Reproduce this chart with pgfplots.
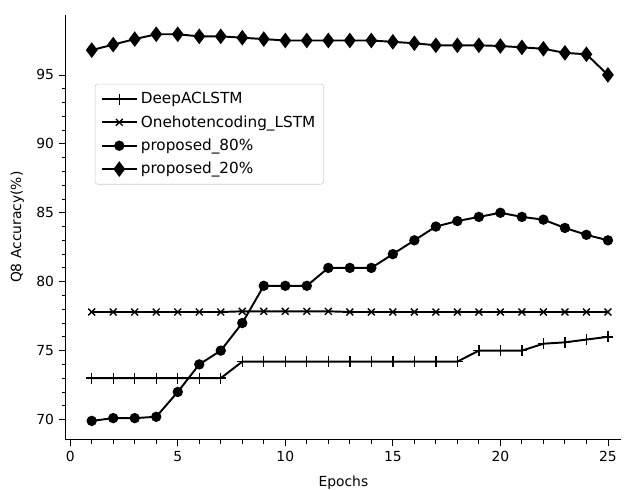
\documentclass[border=0pt]{standalone}
\usepackage{pgfplots}
\pgfplotsset{compat=1.18}
\usepackage{fontspec}
\setmainfont{DejaVu Sans}

\begin{document}
\begin{tikzpicture}
\begin{axis}[
    name=main,
    scale only axis,
    width=400pt, height=306pt,
    xmin=-0.2, xmax=25.6, ymin=68.55, ymax=99.35,
    xtick={0,5,10,15,20,25},
    ytick={70,75,80,85,90,95},
    minor x tick num=4, minor y tick num=4,
    axis x line*=bottom, axis y line*=left,
    tick align=outside,
    major tick length=5pt, minor tick length=3pt,
    every tick/.style={black, line width=0.6pt},
    axis line style={line width=0.6pt},
    tick label style={font=\fontsize{10}{12}\selectfont},
    /pgf/number format/assume math mode=true,
    xlabel={Epochs}, ylabel={Q8 Accuracy(\%)},
    label style={font=\fontsize{10}{12}\selectfont},
    xlabel style={yshift=-3pt},
    ylabel style={yshift=2pt},
    legend style={at={(0.052,0.838)}, anchor=north west,
        font=\fontsize{11}{13}\selectfont, draw=black!20, rounded corners=2pt,
        row sep=3pt, inner sep=4pt},
    legend cell align=left,
    legend image code/.code={
        \draw[mark repeat=2,mark phase=2,#1] plot coordinates {(0cm,0cm) (0.45cm,0cm) (0.9cm,0cm)};},
]
\addplot[black, line width=1.4pt, mark=+, mark size=4pt, mark options={line width=1pt}] coordinates {
(1,73.0) (2,73.0) (3,73.0) (4,73.0) (5,73.0) (6,73.0) (7,73.0)
(8,74.2) (9,74.2) (10,74.2) (11,74.2) (12,74.2) (13,74.2) (14,74.2)
(15,74.2) (16,74.2) (17,74.2) (18,74.2) (19,75.0) (20,75.0) (21,75.0)
(22,75.5) (23,75.6) (24,75.8) (25,76.0)};
\addlegendentry{DeepACLSTM}
\addplot[black, line width=1.4pt, mark=x, mark size=3.5pt, mark options={line width=1pt}] coordinates {
(1,77.8) (2,77.8) (3,77.8) (4,77.8) (5,77.8) (6,77.8) (7,77.8)
(8,77.85) (9,77.85) (10,77.85) (11,77.85) (12,77.85) (13,77.8) (14,77.8)
(15,77.8) (16,77.8) (17,77.8) (18,77.8) (19,77.8) (20,77.8) (21,77.8)
(22,77.8) (23,77.8) (24,77.8) (25,77.8)};
\addlegendentry{Onehotencoding\_LSTM}
\addplot[black, line width=1.4pt, mark=*, mark size=3pt, mark options={fill=black}] coordinates {
(1,69.9) (2,70.1) (3,70.1) (4,70.2) (5,72.0) (6,74.0) (7,75.0)
(8,77.0) (9,79.7) (10,79.7) (11,79.7) (12,81.0) (13,81.0) (14,81.0)
(15,82.0) (16,83.0) (17,84.0) (18,84.4) (19,84.7) (20,85.0) (21,84.7)
(22,84.5) (23,83.9) (24,83.4) (25,83.0)};
\addlegendentry{proposed\_80\%}
\addplot[black, line width=1.4pt, mark=diamond*, mark size=4.5pt, mark options={fill=black}] coordinates {
(1,96.8) (2,97.2) (3,97.6) (4,97.95) (5,97.95) (6,97.8) (7,97.8)
(8,97.7) (9,97.6) (10,97.5) (11,97.5) (12,97.5) (13,97.5) (14,97.5)
(15,97.4) (16,97.3) (17,97.15) (18,97.15) (19,97.15) (20,97.1) (21,97.0)
(22,96.9) (23,96.6) (24,96.5) (25,95.0)};
\addlegendentry{proposed\_20\%}
\end{axis}
\pgfresetboundingbox
\path ([shift={(-47.5pt,-36pt)}]main.south west) rectangle ([shift={(3pt,10.8pt)}]main.north east);
\end{tikzpicture}
\end{document}
